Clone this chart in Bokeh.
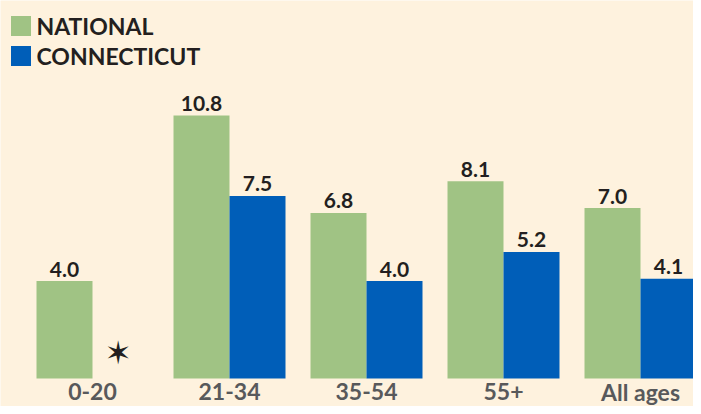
from bokeh.plotting import figure
from bokeh.models import ColumnDataSource, Range1d, Legend, LegendItem
from bokeh.transform import dodge
from bokeh.core.properties import value
from bokeh.embed import file_html
from bokeh.resources import INLINE
import math

categories = ["0-20", "21-34", "35-54", "55+", "All ages"]
national = [4.0, 10.8, 6.8, 8.1, 7.0]
connecticut = [float("nan"), 7.5, 4.0, 5.2, 4.1]
missing_marker = ["0-20"]

BG = "#FEF2DE"
GREEN = "#A0C384"
BLUE = "#005EB8"
DARK = "#231F20"
GRAY = "#58595B"
FONT = "Lato"

idx = list(range(len(categories)))
src = ColumnDataSource(dict(
    x=idx,
    cat=categories,
    zero=[0] * len(categories),
    nat=national,
    ct=connecticut,
    nat_lbl=[f"{v:.1f}" for v in national],
    ct_lbl=["" if math.isnan(v) else f"{v:.1f}" for v in connecticut],
))

W, H = 693, 406
baseline_px = 378.0          # baseline distance from top of figure
px_per_group = 137.0
first_center = 92.0
px_per_unit = 24.35
bar_px = 56.0

p = figure(width=W, height=H, output_backend="svg", toolbar_location=None,
           x_range=Range1d(-first_center / px_per_group, (W - first_center) / px_per_group),
           y_range=Range1d(-(H - baseline_px) / px_per_unit, baseline_px / px_per_unit),
           min_border_left=0, min_border_right=0, min_border_top=0, min_border_bottom=0)
p.background_fill_color = BG
p.border_fill_color = BG
p.outline_line_color = None
p.grid.visible = False
p.xaxis.visible = False
p.yaxis.visible = False

bw = bar_px / px_per_group
r_nat = p.vbar(x=dodge("x", -bw / 2, range=p.x_range), top="nat", width=bw, source=src,
               fill_color=GREEN, line_color=None)
r_ct = p.vbar(x=dodge("x", bw / 2, range=p.x_range), top="ct", width=bw, source=src,
              fill_color=BLUE, line_color=None)

for col, lbl, off in (("nat", "nat_lbl", -bw / 2), ("ct", "ct_lbl", bw / 2)):
    p.text(x=dodge("x", off, range=p.x_range), y=col, text=lbl, source=src,
           text_align="center", text_baseline="alphabetic", y_offset=-12,
           text_font=value(FONT), text_font_style="bold", text_font_size="21px",
           text_color=DARK)

# category labels under the bars
p.text(x="x", y="zero", text="cat", source=src,
       text_align="center", text_baseline="alphabetic", y_offset=13,
       text_font=value(FONT), text_font_style="bold", text_font_size="23px",
       text_color=GRAY)

# missing-data star
star_x = [categories.index(c) for c in missing_marker]
p.text(x=dodge("x", bw / 2 - 0.018, range=p.x_range), y="y",
       source=ColumnDataSource(dict(x=star_x, y=[1.03] * len(star_x), t=["\u2736"] * len(star_x))),
       text="t", text_align="center", text_baseline="middle",
       text_font=value("DejaVu Sans"), text_font_size="32px", text_color=DARK)

legend = Legend(items=[LegendItem(label="NATIONAL", renderers=[r_nat]),
                       LegendItem(label="CONNECTICUT", renderers=[r_ct])],
                location=(7.5, 336.5), orientation="vertical",
                glyph_width=25, glyph_height=25, label_height=25, spacing=2,
                label_standoff=4, padding=0, margin=0,
                background_fill_alpha=0, border_line_color=None,
                label_text_font=FONT, label_text_font_style="bold",
                label_text_font_size="23px", label_text_color=DARK)
p.add_layout(legend, "center")

open("out.html", "w").write(file_html(p, INLINE))
